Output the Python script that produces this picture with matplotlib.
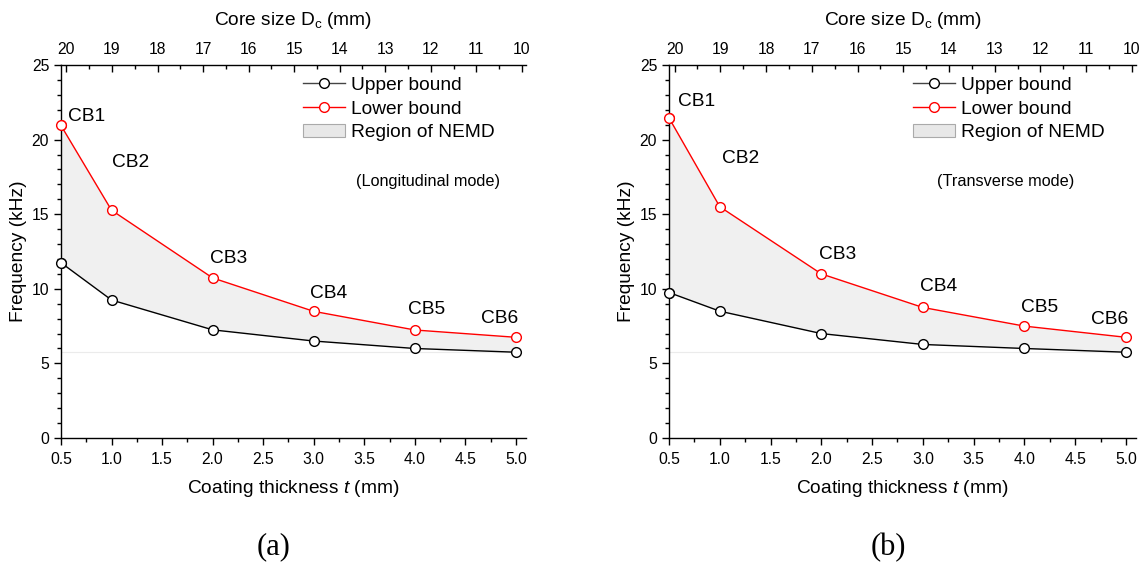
import matplotlib
matplotlib.use("Agg")
import matplotlib.pyplot as plt
from matplotlib.ticker import MultipleLocator
from matplotlib.lines import Line2D
from matplotlib.patches import Patch

plt.rcParams['font.family'] = ['Liberation Sans', 'DejaVu Sans']
plt.rcParams['mathtext.fontset'] = 'custom'
plt.rcParams['mathtext.rm'] = 'Liberation Sans'
plt.rcParams['mathtext.it'] = 'Liberation Sans:italic'

# coating thickness t (mm)
thickness = [0.5, 1.0, 2.0, 3.0, 4.0, 5.0]
cb_names = ["CB1", "CB2", "CB3", "CB4", "CB5", "CB6"]

# (a) longitudinal mode, frequency in kHz
long_upper = [11.75, 9.25, 7.25, 6.5, 6.0, 5.75]
long_lower = [20.95, 15.27, 10.73, 8.49, 7.24, 6.75]

# (b) transverse mode
trans_upper = [9.75, 8.5, 7.0, 6.27, 6.0, 5.75]
trans_lower = [21.45, 15.5, 11.0, 8.75, 7.5, 6.75]

core_ticks = [20, 19, 18, 17, 16, 15, 14, 13, 12, 11, 10]

# label offsets in pixels (left edge of text, vertical centre)
offs_a = [(7, 9), (0, 48), (-3, 19), (-4, 18), (-7, 20), (-35, 19)]
offs_b = [(9, 16), (2, 48), (-2, 19), (-3, 21), (-3, 19), (-35, 18)]

FS = 13.8

fig = plt.figure(figsize=(11.48, 5.64), dpi=100)


def draw_panel(rect, upper, lower, offs, mode_text, mode_x, tag, tag_x):
    ax = fig.add_axes(rect)
    ax.fill_between(thickness, upper, lower, color='#f0f0f0', lw=0)
    ax.hlines(upper[-1], thickness[0], thickness[-1], color='#ebebeb', lw=0.8)
    ax.plot(thickness, upper, color='black', lw=1, marker='o', ms=7,
            mfc='white', mec='black', mew=1, zorder=3)
    ax.plot(thickness, lower, color='red', lw=1, marker='o', ms=7,
            mfc='white', mec='red', mew=1, zorder=3)
    ax.plot(thickness[:1], lower[:1], 'o', ms=7, mfc='white', mec='red',
            mew=1, zorder=4, clip_on=False)
    ax.plot(thickness[:1], upper[:1], 'o', ms=7, mfc='white', mec='black',
            mew=1, zorder=4, clip_on=False)

    for name, xv, yv, (dx, dy) in zip(cb_names, thickness, lower, offs):
        ax.annotate(name, (xv, yv), xytext=(dx, dy), textcoords='offset pixels',
                    ha='left', va='center', fontsize=FS)

    ax.set_xlim(0.5, 5.1)
    ax.set_ylim(0, 25)
    ax.xaxis.set_minor_locator(MultipleLocator(0.25))
    ax.yaxis.set_major_locator(MultipleLocator(5))
    ax.yaxis.set_minor_locator(MultipleLocator(1))
    ax.set_xticks([0.5, 1.0, 1.5, 2.0, 2.5, 3.0, 3.5, 4.0, 4.5, 5.0])
    ax.set_xticklabels(["0.5", "1.0", "1.5", "2.0", "2.5", "3.0", "3.5",
                        "4.0", "4.5", "5.0"])
    ax.tick_params(which='major', direction='out', length=5, width=1,
                   labelsize=11.3)
    ax.tick_params(axis='x', which='major', pad=5)
    ax.tick_params(which='minor', direction='out', length=3, width=1)
    ax.spines['right'].set_visible(False)
    ax.spines['top'].set_visible(False)
    for s in ['left', 'bottom']:
        ax.spines[s].set_linewidth(1)
    ax.set_xlabel(r"Coating thickness $t$ (mm)", fontsize=FS, labelpad=8)
    ax.set_ylabel("Frequency (kHz)", fontsize=FS, labelpad=3)

    top = ax.twiny()
    top.set_xlim(20.12, 9.91)
    top.set_xticks(core_ticks)
    top.xaxis.set_minor_locator(MultipleLocator(0.5))
    top.tick_params(which='major', direction='in', length=5, width=1,
                    labelsize=11.3, pad=6)
    top.tick_params(which='minor', direction='in', length=3, width=1)
    for s in ['right', 'left', 'bottom']:
        top.spines[s].set_visible(False)
    top.spines['top'].set_linewidth(1)
    top.set_xlabel(r"Core size D$_\mathregular{c}$ (mm)", fontsize=FS,
                   labelpad=12)

    handles = [
        Line2D([], [], color='#444444', lw=1, marker='o', ms=7, mfc='white',
               mec='black'),
        Line2D([], [], color='red', lw=1, marker='o', ms=7, mfc='white',
               mec='red'),
        Patch(facecolor='#e8e8e8', edgecolor='#aaaaaa', lw=0.8),
    ]
    ax.legend(handles, ["Upper bound", "Lower bound", "Region of NEMD"],
              loc='upper right', bbox_to_anchor=(0.945, 0.985), frameon=False,
              fontsize=FS, handlelength=2.2, handletextpad=0.3,
              labelspacing=0.33, borderaxespad=0.0, borderpad=0.3)
    ax.text(mode_x, 0.689, mode_text, transform=ax.transAxes, fontsize=11.7,
            ha='center', va='center')
    fig.text(tag_x, 0.03, tag, family='Liberation Serif',
             fontsize=22, ha='center', va='center')
    return ax


draw_panel([0.0531, 0.2234, 0.4051, 0.6613], long_upper, long_lower, offs_a,
           "(Longitudinal mode)", 0.789, "(a)", 0.2387)
draw_panel([0.5828, 0.2234, 0.4068, 0.6613], trans_upper, trans_lower, offs_b,
           "(Transverse mode)", 0.72, "(b)", 0.7735)

fig.savefig("out.png", dpi=100)
